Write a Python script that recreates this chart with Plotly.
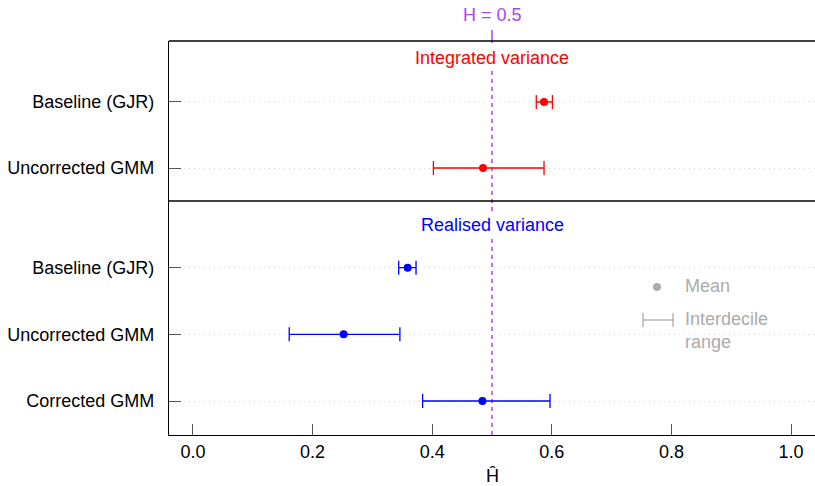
import plotly.graph_objects as go
from plotly.subplots import make_subplots

# Integrated variance panel
iv_labels = ["Baseline (GJR)", "Uncorrected GMM"]
iv_mean = [0.587, 0.485]
iv_lo = [0.574, 0.402]
iv_hi = [0.601, 0.587]

# Realised variance panel
rv_labels = ["Baseline (GJR)", "Uncorrected GMM", "Corrected GMM"]
rv_mean = [0.359, 0.252, 0.484]
rv_lo = [0.344, 0.161, 0.384]
rv_hi = [0.373, 0.346, 0.597]

x_ticks = [0.0, 0.2, 0.4, 0.6, 0.8, 1.0]
x_ticktext = ["0.0", "0.2", "0.4", "0.6", "0.8", "1.0"]
h_ref = 0.5

FONT = "Liberation Sans, Arial, sans-serif"
PURPLE = "#A847F2"
GRID = "#D4D4D4"
TICK = "#555555"
LEG = "#ABABAB"

fig = make_subplots(rows=2, cols=1, shared_xaxes=True, vertical_spacing=0,
                    row_heights=[160, 234])


def add_panel(row, means, lo, hi, color):
    pos = list(range(1, len(means) + 1))
    fig.add_trace(go.Scatter(
        x=means, y=pos, mode="markers",
        marker=dict(color=color, size=8),
        error_x=dict(type="data", symmetric=False,
                     array=[h - m for h, m in zip(hi, means)],
                     arrayminus=[m - l for m, l in zip(means, lo)],
                     color=color, thickness=1.3, width=7),
        showlegend=False, hoverinfo="skip"), row=row, col=1)


add_panel(1, iv_mean, iv_lo, iv_hi, "#FF0000")
add_panel(2, rv_mean, rv_lo, rv_hi, "#0000FF")

yax_common = dict(
    showline=True, linecolor="black", linewidth=1.3,
    ticks="inside", ticklen=12, tickwidth=1.3, tickcolor=TICK,
    showgrid=True, gridcolor=GRID, griddash="1px,4px", gridwidth=1.2,
    zeroline=False, ticklabelstandoff=10,
    tickfont=dict(family=FONT, size=18, color="black"))

fig.update_yaxes(range=[2.5, 0.076], tickvals=[1, 2], ticktext=iv_labels,
                 row=1, col=1, **yax_common)
fig.update_yaxes(range=[3.51, 0.0], tickvals=[1, 2, 3], ticktext=rv_labels,
                 row=2, col=1, **yax_common)

fig.update_xaxes(range=[-0.04, 1.04], showgrid=False, zeroline=False,
                 row=1, col=1, showticklabels=False, ticks="")
fig.update_xaxes(range=[-0.04, 1.04], showgrid=False, zeroline=False,
                 tickvals=x_ticks, ticktext=x_ticktext,
                 showline=True, linecolor="black", linewidth=1.3,
                 ticks="inside", ticklen=11, tickwidth=1.3, tickcolor=TICK,
                 tickfont=dict(family=FONT, size=18, color="black"),
                 row=2, col=1)

# reference line at H = 0.5, with a short tick above the frame
fig.add_shape(type="line", xref="x", yref="paper", x0=h_ref, x1=h_ref,
              y0=0, y1=1, line=dict(color=PURPLE, width=1.5, dash="4px,4px"),
              layer="below")
fig.add_shape(type="line", xref="x", yref="paper", x0=h_ref, x1=h_ref,
              y0=1, y1=1.028, line=dict(color=PURPLE, width=1.5))

# top frame line and panel divider
fig.add_shape(type="line", xref="paper", yref="paper", x0=0, x1=1, y0=1, y1=1,
              line=dict(color="black", width=1.3))
fig.add_shape(type="line", xref="paper", yref="paper", x0=0, x1=1,
              y0=234 / 394, y1=234 / 394, line=dict(color="black", width=1.3))


def px(x):
    return (x - 169) / 646


def py(y):
    return (435 - y) / 394


def label(text, x, y, color, xref="paper", xanchor="center", bg=None):
    fig.add_annotation(text=text, xref=xref, yref="paper", x=x, y=y,
                       xanchor=xanchor, yanchor="middle", align="left",
                       showarrow=False, bgcolor=bg,
                       font=dict(family=FONT, size=18, color=color))


# panel titles and axis labels
label("Integrated variance", 0.5, py(58), "#FF0000", bg="white")
label("Realised variance", 0.5, py(225), "#0000FF", bg="white")
label("H = 0.5", h_ref, py(15), PURPLE, xref="x")
label("Ĥ", h_ref, py(476), "black", xref="x")

# key: dot = mean, whisker = interdecile range
fig.add_shape(type="circle", xref="paper", yref="paper",
              x0=px(653), x1=px(661), y0=py(291), y1=py(283),
              fillcolor=LEG, line=dict(width=0))
fig.add_shape(type="line", xref="paper", yref="paper",
              x0=px(643), x1=px(673), y0=py(320), y1=py(320),
              line=dict(color=LEG, width=1.3))
for xx in (643, 673):
    fig.add_shape(type="line", xref="paper", yref="paper",
                  x0=px(xx), x1=px(xx), y0=py(313), y1=py(327),
                  line=dict(color=LEG, width=1.3))
label("Mean", px(683), py(286), LEG, xanchor="left")
label("Interdecile<br>range", px(683), py(330), LEG, xanchor="left")

fig.update_layout(
    width=815, height=486,
    margin=dict(l=169, r=0, t=41, b=51),
    plot_bgcolor="white", paper_bgcolor="white",
    font=dict(family=FONT, size=18),
)

fig.write_html("out.html")
